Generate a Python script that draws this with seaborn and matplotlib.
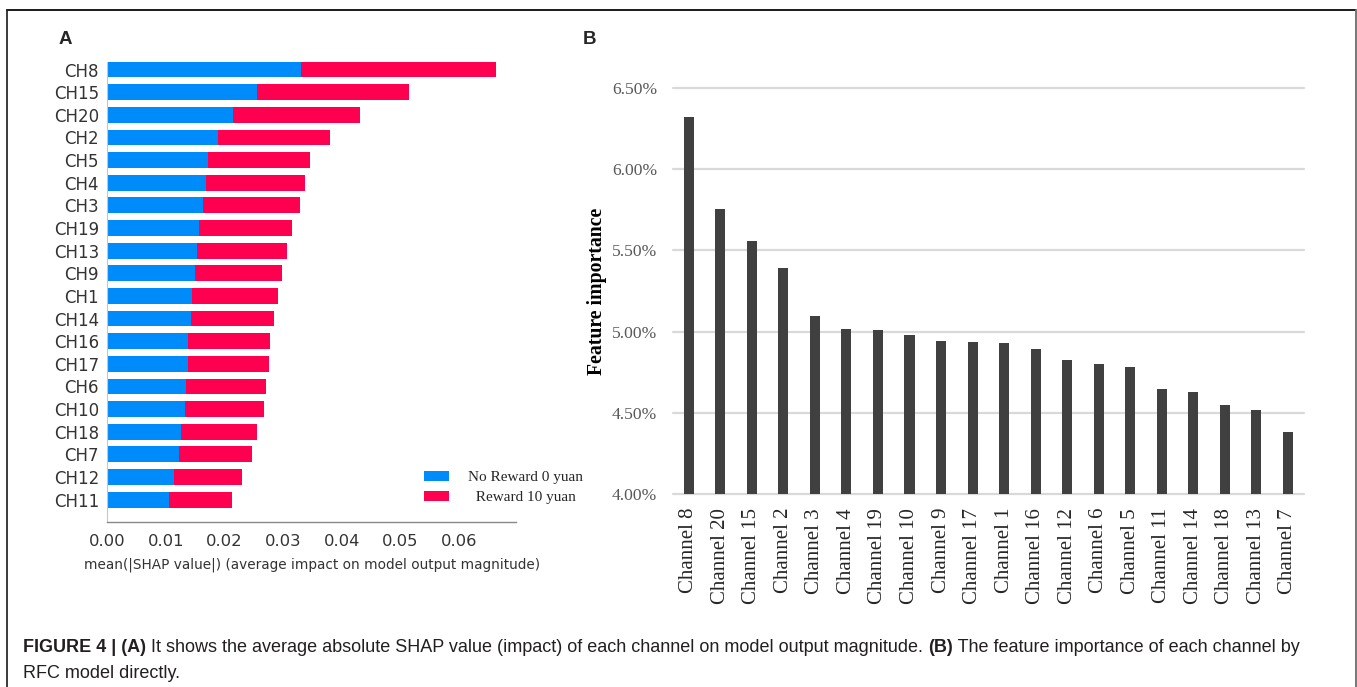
import matplotlib
matplotlib.use("Agg")
import matplotlib.pyplot as plt
from matplotlib.lines import Line2D
from matplotlib.patches import Patch
from matplotlib.ticker import FixedLocator, FuncFormatter
from matplotlib.font_manager import FontProperties
import seaborn as sns
import pandas as pd

# ---- Panel A: mean |SHAP| per channel, split by class ----
shap_channels = ["CH8", "CH15", "CH20", "CH2", "CH5", "CH4", "CH3", "CH19", "CH13", "CH9",
                 "CH1", "CH14", "CH16", "CH17", "CH6", "CH10", "CH18", "CH7", "CH12", "CH11"]
shap_no_reward = [0.0331, 0.0256, 0.0215, 0.0189, 0.0172, 0.0168, 0.0164, 0.0157, 0.0153, 0.0149,
                  0.0144, 0.0142, 0.0138, 0.0137, 0.0135, 0.0132, 0.0126, 0.0122, 0.0114, 0.0105]
shap_reward = [0.0332, 0.0258, 0.0216, 0.0190, 0.0173, 0.0169, 0.0165, 0.0158, 0.0154, 0.0149,
               0.0147, 0.0143, 0.0140, 0.0139, 0.0136, 0.0135, 0.0129, 0.0125, 0.0116, 0.0107]
shap_ticks = [0.00, 0.01, 0.02, 0.03, 0.04, 0.05, 0.06]
class_labels = ["No Reward 0 yuan", "  Reward 10 yuan"]

# ---- Panel B: random forest feature importance (%) ----
rfc_channels = ["Channel 8", "Channel 20", "Channel 15", "Channel 2", "Channel 3", "Channel 4",
                "Channel 19", "Channel 10", "Channel 9", "Channel 17", "Channel 1", "Channel 16",
                "Channel 12", "Channel 6", "Channel 5", "Channel 11", "Channel 14", "Channel 18",
                "Channel 13", "Channel 7"]
rfc_importance = [6.32, 5.757, 5.556, 5.390, 5.096, 5.016, 5.010, 4.981, 4.942, 4.933,
                  4.928, 4.891, 4.823, 4.799, 4.784, 4.645, 4.626, 4.546, 4.515, 4.384]
rfc_ticks = [4.0, 4.5, 5.0, 5.5, 6.0, 6.5]

BLUE = "#008bfb"
RED = "#ff0051"
BAR_GREY = "#404040"

sns.set_style("white")
plt.rcParams["font.family"] = ["DejaVu Sans"]

W, H = 1357, 687
fig = plt.figure(figsize=(W / 100, H / 100), dpi=100)


def box(left, top, right, bottom):
    return [left / W, 1 - bottom / H, (right - left) / W, (bottom - top) / H]


# ---------------- Panel A ----------------
axA = fig.add_axes(box(107.3, 61.6, 516, 522.3))
dfA = pd.DataFrame({"channel": shap_channels,
                    "no_reward": shap_no_reward,
                    "reward": shap_reward})
dfA["total"] = dfA["no_reward"] + dfA["reward"]

sns.barplot(data=dfA, y="channel", x="total", orient="h", color=RED,
            saturation=1, width=0.7, linewidth=0, ax=axA)
sns.barplot(data=dfA, y="channel", x="no_reward", orient="h", color=BLUE,
            saturation=1, width=0.7, linewidth=0, ax=axA)

axA.set_xlim(0, 0.0697)
axA.set_ylim(len(shap_channels), -0.35)
axA.xaxis.set_major_locator(FixedLocator(shap_ticks))
axA.xaxis.set_major_formatter(FuncFormatter(lambda v, p: f"{v:.2f}"))
axA.set_ylabel("")
axA.set_xlabel("mean(|SHAP value|) (average impact on model output magnitude)",
               fontsize=9.8, color="#333333", labelpad=6)
axA.tick_params(axis="x", labelsize=11.8, colors="#333333", length=4, width=0.8,
                pad=4.5, color="#888888")
axA.tick_params(axis="y", labelsize=12, labelcolor="#333333", length=0, pad=6)
for side in ("top", "right"):
    axA.spines[side].set_visible(False)
axA.spines["left"].set_color("#c8c8c8")
axA.spines["bottom"].set_color("#888888")
axA.spines["bottom"].set_linewidth(1.0)

handles = [Patch(facecolor=BLUE, edgecolor="none"), Patch(facecolor=RED, edgecolor="none")]
fig.legend(handles, class_labels, loc="upper left",
           bbox_to_anchor=(424 / W, 1 - 471 / H), frameon=False,
           prop=FontProperties(family="Liberation Serif", size=11),
           handlelength=1.65, handleheight=0.6, handletextpad=1.2,
           labelspacing=0.45, borderpad=0, borderaxespad=0)

# ---------------- Panel B ----------------
axB = fig.add_axes(box(673, 88, 1303.7, 494))
sns.barplot(x=rfc_channels, y=rfc_importance, color=BAR_GREY, saturation=1,
            width=0.32, linewidth=0, ax=axB)
axB.set_ylim(rfc_ticks[0], rfc_ticks[-1])
axB.set_xlim(-0.5, len(rfc_channels) - 0.5)
axB.yaxis.set_major_locator(FixedLocator(rfc_ticks))
axB.yaxis.set_major_formatter(FuncFormatter(lambda v, p: f"{v:.2f}%"))
axB.set_axisbelow(True)
axB.yaxis.grid(True, color="#d9d9d9", linewidth=1.6)
axB.xaxis.grid(False)
for gl in axB.get_ygridlines():
    gl.set_clip_on(False)
for side in axB.spines:
    axB.spines[side].set_visible(False)

serif = "Liberation Serif"
axB.tick_params(axis="y", length=0, pad=11.5, labelsize=12.6, labelcolor="#595959")
axB.tick_params(axis="x", length=0, pad=10, labelsize=15, labelcolor="#262626")
for lab in axB.get_yticklabels():
    lab.set_fontfamily(serif)
for lab in axB.get_xticklabels():
    lab.set_fontfamily(serif)
    lab.set_rotation(90)
    lab.set_verticalalignment("top")
    lab.set_horizontalalignment("center")

axB.set_ylabel("Feature importance", fontfamily=serif, fontweight="bold",
               fontsize=14.2, color="black")
axB.yaxis.set_label_coords(-0.105, 0.5)

# ---------------- Panel letters ----------------
fig.text(65 / W, 1 - 40 / H, "A", fontfamily="Liberation Sans", fontweight="bold",
         fontsize=13.5, ha="center", va="center")
fig.text(589 / W, 1 - 40 / H, "B", fontfamily="Liberation Sans", fontweight="bold",
         fontsize=13.5, ha="center", va="center")

# ---------------- Caption ----------------
cap_kw = dict(fontfamily="Liberation Sans", fontsize=13, color="#231f20")
pieces = [("FIGURE 4 | (A)", "bold"),
          (" It shows the average absolute SHAP value (impact) of each channel on model output magnitude. ", "normal"),
          ("(B)", "bold"),
          (" The feature importance of each channel by", "normal")]
prev = fig.text(23 / W, 1 - 652 / H, pieces[0][0], fontweight=pieces[0][1],
                ha="left", va="baseline", **cap_kw)
for txt, wt in pieces[1:]:
    prev = axA.annotate(txt, xy=(1, 0), xycoords=prev, ha="left", va="bottom",
                        fontweight=wt, annotation_clip=False, **cap_kw)
fig.text(23 / W, 1 - 678 / H, "RFC model directly.", ha="left", va="baseline", **cap_kw)

# ---------------- Frame ----------------
fig.add_artist(Line2D([7 / W, 1355.5 / W], [1 - 10 / H, 1 - 10 / H], color="#1a1a1a", lw=1.4))
fig.add_artist(Line2D([7 / W, 7 / W], [0, 1 - 10 / H], color="#1a1a1a", lw=1.2))
fig.add_artist(Line2D([1355.5 / W, 1355.5 / W], [0, 1 - 10 / H], color="#7a7a7a", lw=2.2))

fig.savefig("out.png", dpi=100)
